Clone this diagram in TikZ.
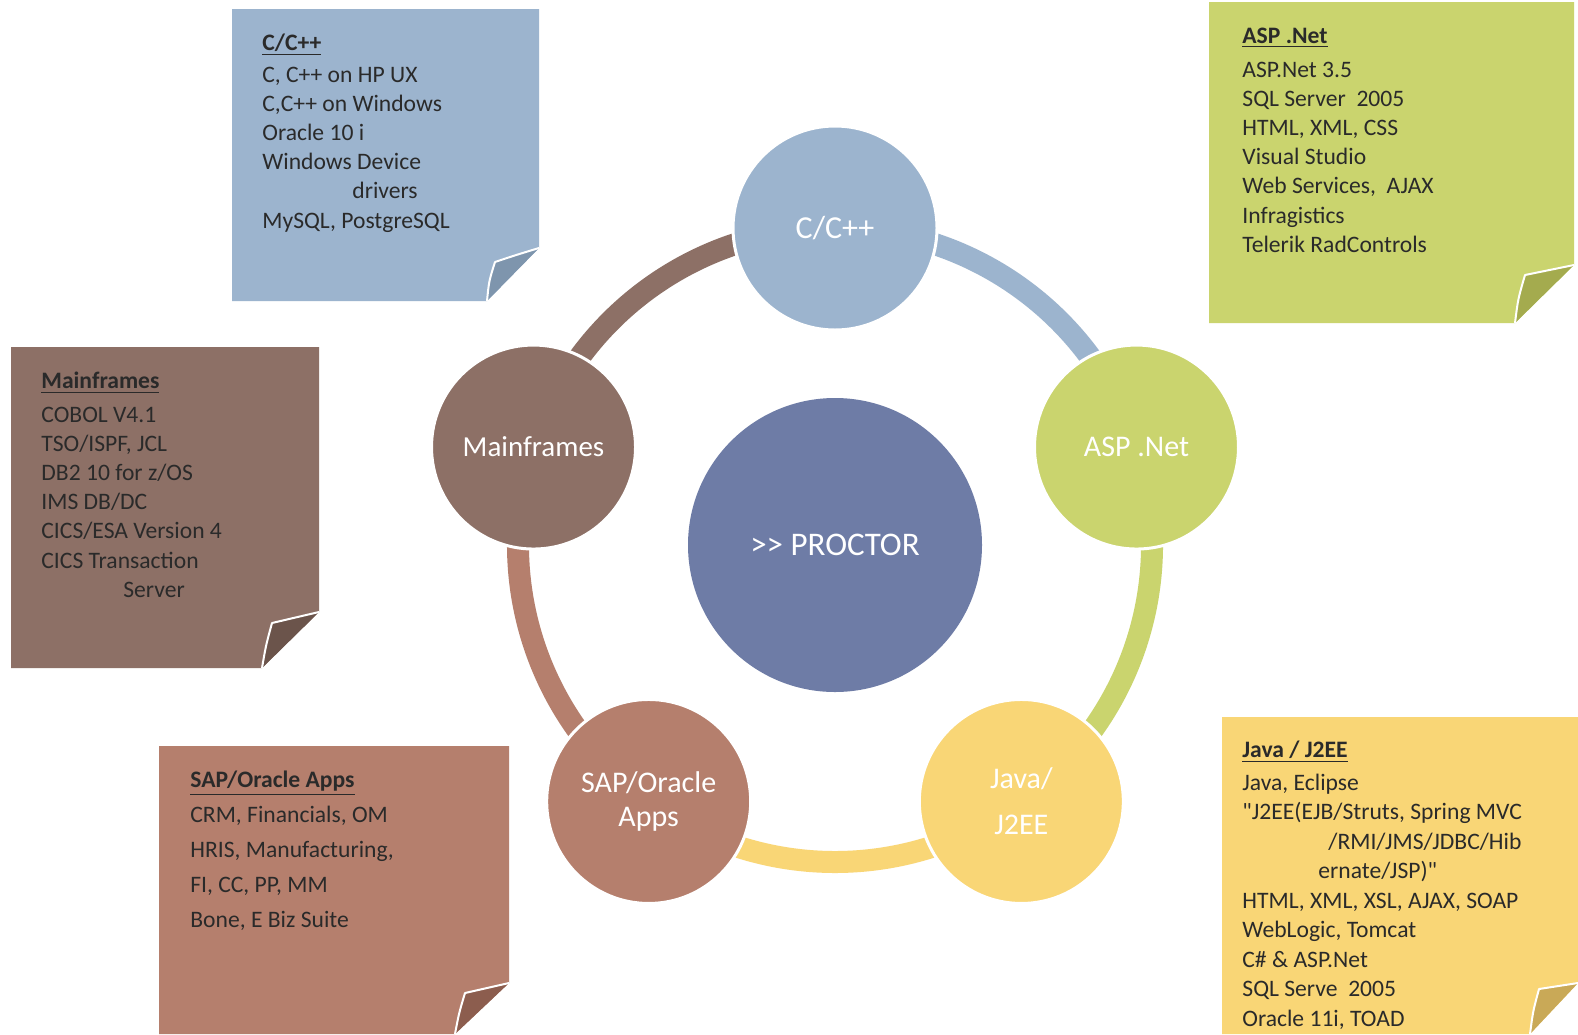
\documentclass[tikz,border=0pt]{standalone}
\usepackage{fontspec}
\setmainfont{Carlito}[Ligatures=TeXOff]
\usetikzlibrary{backgrounds}

\definecolor{cppblue}{HTML}{9CB4CE}
\definecolor{cppfold}{HTML}{7E95AD}
\definecolor{aspgreen}{HTML}{CAD46E}
\definecolor{aspfold}{HTML}{A4AB4E}
\definecolor{javayellow}{HTML}{F9D676}
\definecolor{javafold}{HTML}{C9A957}
\definecolor{sapbrown}{HTML}{B57F6D}
\definecolor{sapfold}{HTML}{8C5D4E}
\definecolor{mainbrown}{HTML}{8D7066}
\definecolor{mainfold}{HTML}{6B544B}
\definecolor{proctorblue}{HTML}{6E7CA6}
\definecolor{notegray}{HTML}{2A2A2A}

\tikzset{
  tech/.style={shape=circle, draw=white, line width=1.5pt, minimum size=102pt, inner sep=0pt,
    text=white, align=center, font=\fontsize{15}{17}\selectfont},
  ring/.style={line width=11pt},
  notetext/.style={anchor=north west, inner sep=0pt, align=left, text=notegray,
    font=\fontsize{11.8}{14.6}\selectfont},
  curl/.style={draw=white, line width=1pt, line join=round},
}

\begin{document}
\begin{tikzpicture}[x=0.5pt, y=-0.5pt]
    \useasboundingbox (0,0) rectangle (1578,1034);

    % sticky notes
    \fill[cppblue] (232,9) -- (539,9) -- (539,248) -- (487,301) -- (232,301) -- cycle;
    \fill[cppfold] (487,301) .. controls (489,281) .. (495,262) .. controls (516,255) .. (539,248) -- cycle;
    \draw[curl] (487,301) .. controls (489,281) .. (495,262) .. controls (516,255) .. (539,248);
    \node[notetext] (cppnote) at (262,34) {\underline{\textbf{C/C++}}\\[1pt]
      C, C++ on HP UX\\ C,C++ on Windows\\ Oracle 10 i\\ Windows Device\\
      \hspace*{45pt}drivers\\ MySQL, PostgreSQL};

    \fill[aspgreen] (1209,2) -- (1574,2) -- (1574,265) -- (1515,323) -- (1209,323) -- cycle;
    \fill[aspfold] (1515,323) .. controls (1518,299) .. (1525,275) .. controls (1549,270) .. (1574,265) -- cycle;
    \draw[curl] (1515,323) .. controls (1518,299) .. (1525,275) .. controls (1549,270) .. (1574,265);
    \node[notetext] (aspnote) at (1242,28) {\underline{\textbf{ASP .Net}}\\[2pt]
      ASP.Net 3.5\\ SQL Server\ \ 2005\\ HTML, XML, CSS\\ Visual Studio\\
      Web Services,\ \ AJAX\\ Infragistics\\ Telerik RadControls};

    \fill[mainbrown] (11,347) -- (319,347) -- (319,612) -- (262,668) -- (11,668) -- cycle;
    \fill[mainfold] (262,668) .. controls (266,645) .. (272,623) .. controls (295,618) .. (319,612) -- cycle;
    \draw[curl] (262,668) .. controls (266,645) .. (272,623) .. controls (295,618) .. (319,612);
    \node[notetext] (mainnote) at (41,372) {\underline{\textbf{Mainframes}}\\[2pt]
      COBOL V4.1\\ TSO/ISPF, JCL\\ DB2 10 for z/OS\\ IMS DB/DC\\
      CICS/ESA Version 4\\ CICS Transaction\\ \hspace*{41pt}Server};

    \fill[sapbrown] (159,746) -- (509,746) -- (509,983) -- (455,1034) -- (159,1034) -- cycle;
    \fill[sapfold] (455,1034) .. controls (459,1013) .. (465,993) .. controls (487,988) .. (509,983) -- cycle;
    \draw[curl] (455,1034) .. controls (459,1013) .. (465,993) .. controls (487,988) .. (509,983);
    \node[notetext, font=\fontsize{11.8}{17.5}\selectfont] (sapnote) at (190,771)
      {\underline{\textbf{SAP/Oracle Apps}}\\
      CRM, Financials, OM\\ HRIS, Manufacturing,\\ FI, CC, PP, MM\\ Bone, E Biz Suite};

    \fill[javayellow] (1222,717) -- (1578,717) -- (1578,983) -- (1530,1034) -- (1222,1034) -- cycle;
    \fill[javafold] (1530,1034) .. controls (1533,1011) .. (1539,989) .. controls (1558,986) .. (1578,983) -- cycle;
    \draw[curl] (1530,1034) .. controls (1533,1011) .. (1539,989) .. controls (1558,986) .. (1578,983);
    \node[notetext, font=\fontsize{11.8}{14.75}\selectfont] (javanote) at (1242,741) {\underline{\textbf{Java / J2EE}}\\[1.5pt]
      Java, Eclipse\\ "J2EE(EJB/Struts, Spring MVC\\
      \hspace*{43pt}/RMI/JMS/JDBC/Hib\\ \hspace*{38pt}ernate/JSP)"\\
      HTML, XML, XSL, AJAX, SOAP\\ WebLogic, Tomcat\\ C\# \& ASP.Net\\
      SQL Serve\ \ 2005\\ Oracle 11i, TOAD};

    % cycle
    \coordinate (ctr) at (835,545);
    \node[shape=circle, fill=proctorblue, minimum size=147pt, text=white,
      font=\fontsize{16.5}{19}\selectfont] (proctor) at (ctr) {>> PROCTOR};
    \node[tech, fill=cppblue, font=\fontsize{16}{18}\selectfont] (cpp) at ([shift={(-90:317)}]ctr) {C/C++};
    \node[tech, fill=aspgreen] (asp) at ([shift={(-18:317)}]ctr) {ASP .Net};
    \node[tech, fill=javayellow, font=\fontsize{15}{23}\selectfont] (java) at ([shift={(54:317)}]ctr) {Java/\\J2EE};
    \node[tech, fill=sapbrown] (sap) at ([shift={(126:317)}]ctr) {SAP/Oracle\\Apps};
    \node[tech, fill=mainbrown, font=\fontsize{14.5}{17}\selectfont] (main) at ([shift={(198:317)}]ctr) {Mainframes};

    \begin{scope}[on background layer]
      \fill[white] (0,0) rectangle (1578,1034);
      \draw[ring, cppblue] (cpp.center) arc[start angle=-90, end angle=-18, radius=317];
      \draw[ring, aspgreen] (asp.center) arc[start angle=-18, end angle=54, radius=317];
      \draw[ring, javayellow] (java.center) arc[start angle=54, end angle=126, radius=317];
      \draw[ring, sapbrown] (sap.center) arc[start angle=126, end angle=198, radius=317];
      \draw[ring, mainbrown] (main.center) arc[start angle=198, end angle=270, radius=317];
    \end{scope}
\end{tikzpicture}
\end{document}
